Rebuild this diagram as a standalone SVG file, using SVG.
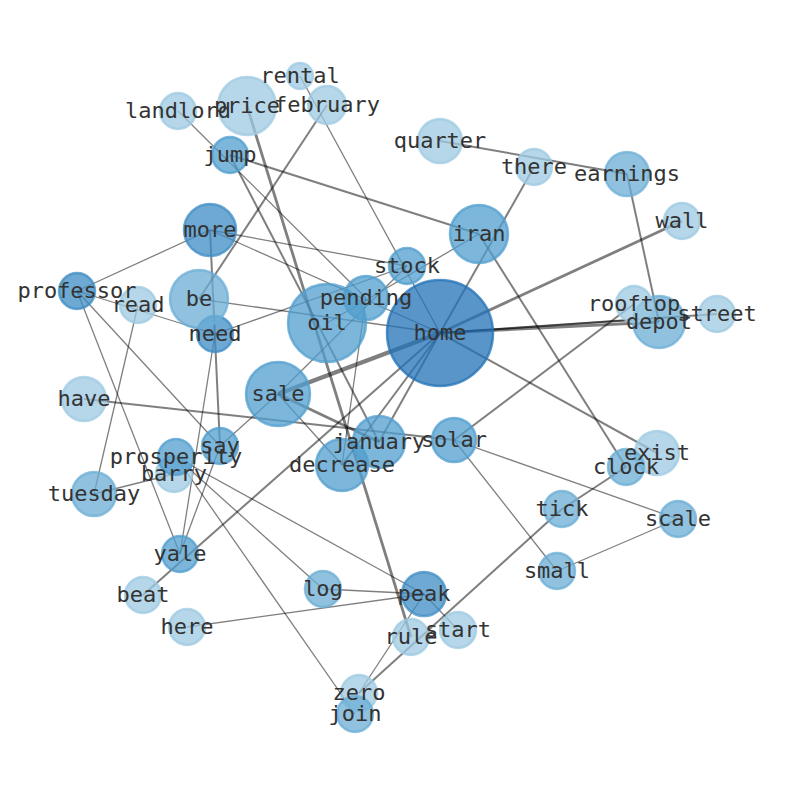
<svg xmlns="http://www.w3.org/2000/svg" width="794" height="790" viewBox="0 0 794 790">
<style>
.e{stroke:#000;stroke-opacity:.5;fill:none}
.w1{stroke-width:1.3}.w2{stroke-width:2}.w3{stroke-width:2.8}.w4{stroke-width:4.5}
.n{fill-opacity:.75;stroke-opacity:.75;stroke-width:2.5}
.c1{fill:#9ecae1;stroke:#9ecae1}
.c2{fill:#6baed6;stroke:#6baed6}
.c3{fill:#509dcd;stroke:#509dcd}
.c4{fill:#3d8cc4;stroke:#3d8cc4}
.c5{fill:#2171b5;stroke:#2171b5}
text{font-family:"DejaVu Sans Mono","Liberation Mono",monospace;font-size:22px;fill:#333;text-anchor:middle}
</style>
<rect width="794" height="790" fill="#fff"/>
<g id="edges">
<line class="e w4" x1="440" y1="333" x2="278" y2="394"/>
<line class="e w3" x1="440" y1="333" x2="659" y2="322"/>
<line class="e w2" x1="440" y1="333" x2="632" y2="320"/>
<line class="e w2" x1="440" y1="333" x2="717" y2="314"/>
<line class="e w3" x1="440" y1="333" x2="682" y2="221"/>
<line class="e w2" x1="440" y1="333" x2="534" y2="167"/>
<line class="e w2" x1="440" y1="333" x2="657" y2="453"/>
<line class="e w2" x1="440" y1="333" x2="379" y2="442"/>
<line class="e w2" x1="440" y1="333" x2="342" y2="465"/>
<line class="e w2" x1="440" y1="333" x2="143" y2="595"/>
<line class="e w1" x1="440" y1="333" x2="199" y2="299"/>
<line class="e w1" x1="440" y1="333" x2="210" y2="230"/>
<line class="e w1" x1="440" y1="333" x2="300" y2="76"/>
<line class="e w2" x1="479" y1="234" x2="230" y2="155"/>
<line class="e w2" x1="479" y1="234" x2="626" y2="467"/>
<line class="e w1" x1="479" y1="234" x2="327" y2="323"/>
<line class="e w1" x1="215" y1="334" x2="407" y2="266"/>
<line class="e w1" x1="278" y1="394" x2="407" y2="266"/>
<line class="e w1" x1="278" y1="394" x2="220" y2="446"/>
<line class="e w1" x1="278" y1="394" x2="342" y2="465"/>
<line class="e w3" x1="278" y1="394" x2="379" y2="442"/>
<line class="e w1" x1="210" y1="230" x2="407" y2="266"/>
<line class="e w1" x1="210" y1="230" x2="77" y2="291"/>
<line class="e w2" x1="210" y1="230" x2="220" y2="446"/>
<line class="e w1" x1="77" y1="291" x2="215" y2="334"/>
<line class="e w1" x1="77" y1="291" x2="220" y2="446"/>
<line class="e w1" x1="77" y1="291" x2="180" y2="554"/>
<line class="e w1" x1="138" y1="305" x2="94" y2="494"/>
<line class="e w1" x1="94" y1="494" x2="174" y2="474"/>
<line class="e w1" x1="215" y1="334" x2="180" y2="554"/>
<line class="e w1" x1="220" y1="446" x2="180" y2="554"/>
<line class="e w1" x1="176" y1="457" x2="323" y2="589"/>
<line class="e w1" x1="176" y1="457" x2="424" y2="594"/>
<line class="e w1" x1="176" y1="457" x2="355" y2="714"/>
<line class="e w1" x1="323" y1="589" x2="424" y2="594"/>
<line class="e w1" x1="187" y1="627" x2="424" y2="594"/>
<line class="e w1" x1="424" y1="594" x2="458" y2="630"/>
<line class="e w1" x1="424" y1="594" x2="359" y2="693"/>
<line class="e w2" x1="359" y1="693" x2="562" y2="509"/>
<line class="e w2" x1="562" y1="509" x2="626" y2="467"/>
<line class="e w1" x1="454" y1="440" x2="557" y2="571"/>
<line class="e w1" x1="454" y1="440" x2="678" y2="519"/>
<line class="e w1" x1="557" y1="571" x2="678" y2="519"/>
<line class="e w2" x1="454" y1="440" x2="634" y2="304"/>
<line class="e w2" x1="84" y1="399" x2="454" y2="440"/>
<line class="e w2" x1="440" y1="141" x2="627" y2="174"/>
<line class="e w2" x1="627" y1="174" x2="659" y2="322"/>
<line class="e w2" x1="327" y1="105" x2="199" y2="299"/>
<line class="e w3" x1="247" y1="106" x2="411" y2="637"/>
<line class="e w2" x1="230" y1="155" x2="379" y2="442"/>
<line class="e w1" x1="178" y1="111" x2="366" y2="298"/>
<line class="e w1" x1="366" y1="298" x2="342" y2="465"/>
</g>
<g id="nodes">
<g id="n-home"><circle class="n c5" cx="440" cy="333" r="53"/></g>
<g id="n-oil"><circle class="n c3" cx="327" cy="323" r="39"/></g>
<g id="n-pending"><circle class="n c3" cx="366" cy="298" r="22"/></g>
<g id="n-stock"><circle class="n c3" cx="407" cy="266" r="18"/></g>
<g id="n-iran"><circle class="n c3" cx="479" cy="234" r="29"/></g>
<g id="n-there"><circle class="n c1" cx="534" cy="167" r="18"/></g>
<g id="n-quarter"><circle class="n c1" cx="440" cy="141" r="22"/></g>
<g id="n-earnings"><circle class="n c2" cx="627" cy="174" r="22"/></g>
<g id="n-wall"><circle class="n c1" cx="682" cy="221" r="18"/></g>
<g id="n-depot"><circle class="n c2" cx="659" cy="322" r="26"/></g>
<g id="n-rooftop"><circle class="n c1" cx="634" cy="304" r="18"/></g>
<g id="n-street"><circle class="n c1" cx="717" cy="314" r="18"/></g>
<g id="n-solar"><circle class="n c3" cx="454" cy="440" r="22"/></g>
<g id="n-exist"><circle class="n c1" cx="657" cy="453" r="22"/></g>
<g id="n-clock"><circle class="n c2" cx="626" cy="467" r="18"/></g>
<g id="n-tick"><circle class="n c2" cx="562" cy="509" r="18"/></g>
<g id="n-scale"><circle class="n c2" cx="678" cy="519" r="18"/></g>
<g id="n-small"><circle class="n c2" cx="557" cy="571" r="18"/></g>
<g id="n-peak"><circle class="n c4" cx="424" cy="594" r="22"/></g>
<g id="n-start"><circle class="n c1" cx="458" cy="630" r="18"/></g>
<g id="n-rule"><circle class="n c1" cx="411" cy="637" r="18"/></g>
<g id="n-zero"><circle class="n c1" cx="359" cy="693" r="18"/></g>
<g id="n-join"><circle class="n c2" cx="355" cy="714" r="18"/></g>
<g id="n-log"><circle class="n c2" cx="323" cy="589" r="18"/></g>
<g id="n-here"><circle class="n c1" cx="187" cy="627" r="18"/></g>
<g id="n-beat"><circle class="n c1" cx="143" cy="595" r="18"/></g>
<g id="n-yale"><circle class="n c3" cx="180" cy="554" r="18"/></g>
<g id="n-tuesday"><circle class="n c2" cx="94" cy="494" r="22"/></g>
<g id="n-barry"><circle class="n c1" cx="174" cy="474" r="18"/></g>
<g id="n-prosperity"><circle class="n c3" cx="176" cy="457" r="18"/></g>
<g id="n-say"><circle class="n c3" cx="220" cy="446" r="18"/></g>
<g id="n-have"><circle class="n c1" cx="84" cy="399" r="22"/></g>
<g id="n-sale"><circle class="n c3" cx="278" cy="394" r="32"/></g>
<g id="n-january"><circle class="n c3" cx="379" cy="442" r="26"/></g>
<g id="n-decrease"><circle class="n c3" cx="342" cy="465" r="26"/></g>
<g id="n-need"><circle class="n c4" cx="215" cy="334" r="18"/></g>
<g id="n-be"><circle class="n c2" cx="199" cy="299" r="29"/></g>
<g id="n-read"><circle class="n c1" cx="138" cy="305" r="18"/></g>
<g id="n-professor"><circle class="n c4" cx="77" cy="291" r="18"/></g>
<g id="n-more"><circle class="n c4" cx="210" cy="230" r="26"/></g>
<g id="n-jump"><circle class="n c3" cx="230" cy="155" r="18"/></g>
<g id="n-landlord"><circle class="n c1" cx="178" cy="111" r="18"/></g>
<g id="n-price"><circle class="n c1" cx="247" cy="106" r="29"/></g>
<g id="n-rental"><circle class="n c1" cx="300" cy="76" r="13"/></g>
<g id="n-february"><circle class="n c1" cx="327" cy="105" r="19"/></g>
</g>
<g id="labels">
<text x="440" y="340">home</text>
<text x="327" y="330">oil</text>
<text x="366" y="305">pending</text>
<text x="407" y="273">stock</text>
<text x="479" y="241">iran</text>
<text x="534" y="174">there</text>
<text x="440" y="148">quarter</text>
<text x="627" y="181">earnings</text>
<text x="682" y="228">wall</text>
<text x="659" y="329">depot</text>
<text x="634" y="311">rooftop</text>
<text x="717" y="321">street</text>
<text x="454" y="447">solar</text>
<text x="657" y="460">exist</text>
<text x="626" y="474">clock</text>
<text x="562" y="516">tick</text>
<text x="678" y="526">scale</text>
<text x="557" y="578">small</text>
<text x="424" y="601">peak</text>
<text x="458" y="637">start</text>
<text x="411" y="644">rule</text>
<text x="359" y="700">zero</text>
<text x="355" y="721">join</text>
<text x="323" y="596">log</text>
<text x="187" y="634">here</text>
<text x="143" y="602">beat</text>
<text x="180" y="561">yale</text>
<text x="94" y="501">tuesday</text>
<text x="174" y="481">barry</text>
<text x="176" y="464">prosperity</text>
<text x="220" y="453">say</text>
<text x="84" y="406">have</text>
<text x="278" y="401">sale</text>
<text x="379" y="449">january</text>
<text x="342" y="472">decrease</text>
<text x="215" y="341">need</text>
<text x="199" y="306">be</text>
<text x="138" y="312">read</text>
<text x="77" y="298">professor</text>
<text x="210" y="237">more</text>
<text x="230" y="162">jump</text>
<text x="178" y="118">landlord</text>
<text x="247" y="113">price</text>
<text x="300" y="83">rental</text>
<text x="327" y="112">february</text>
</g>
</svg>
